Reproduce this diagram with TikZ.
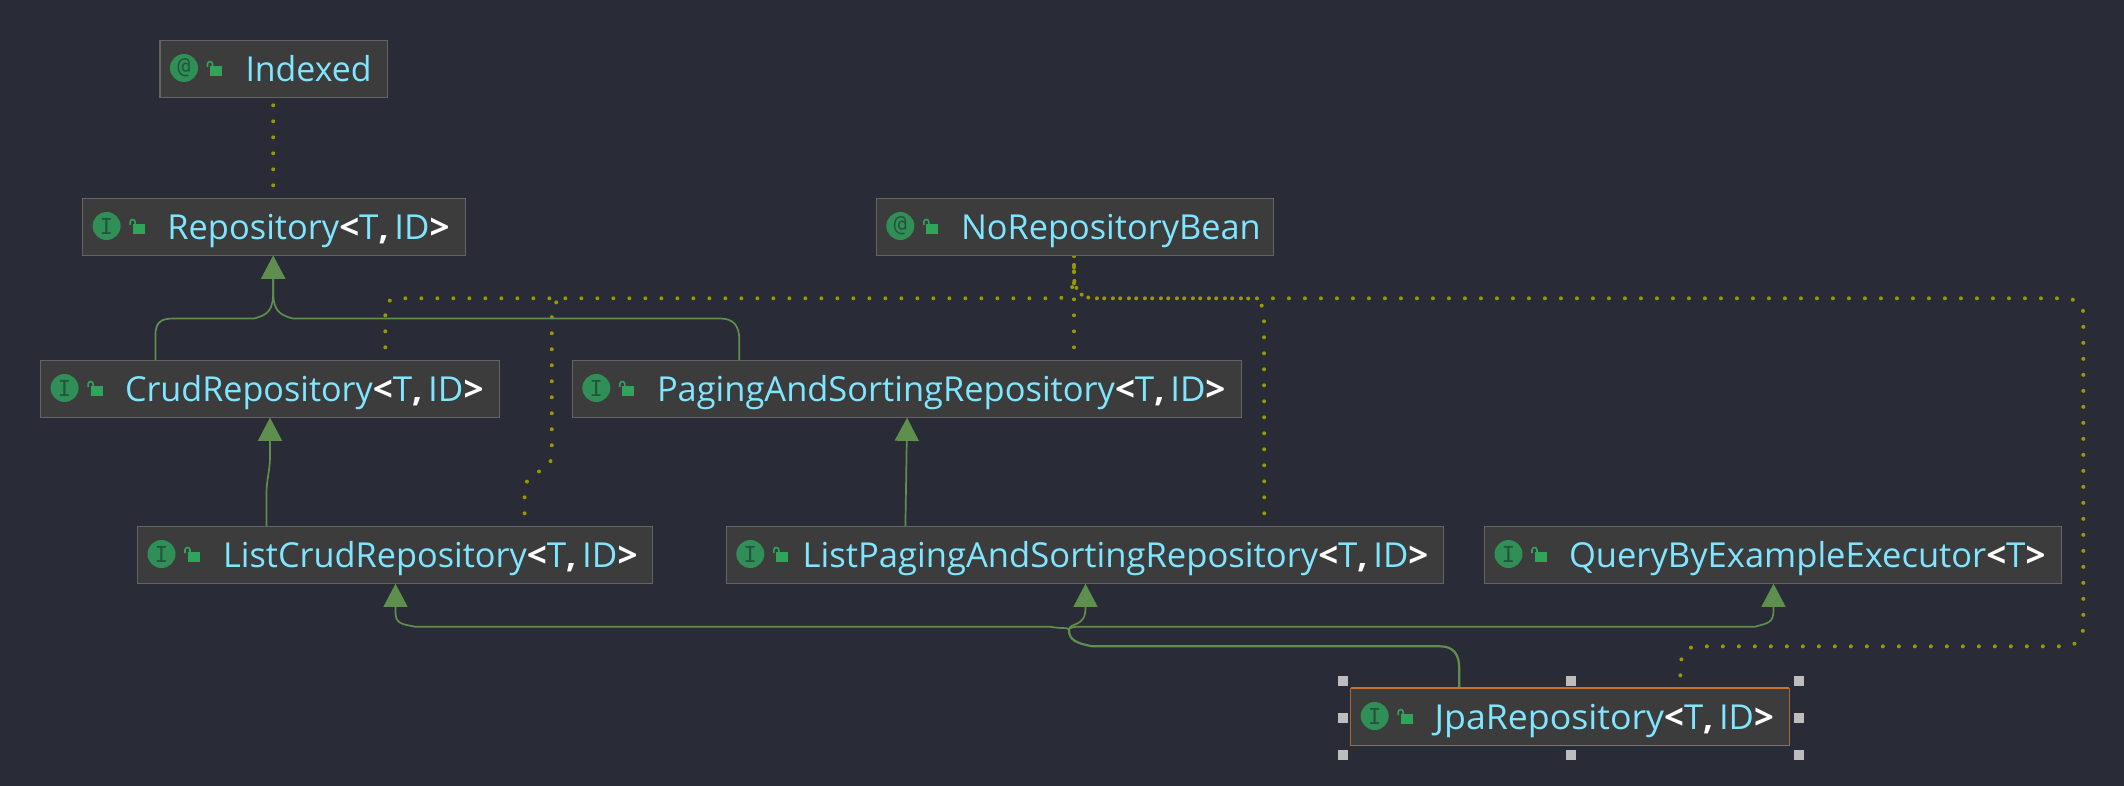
\documentclass[tikz,border=0pt]{standalone}
\usepackage{fontspec}
\usepackage{graphicx}
\setmainfont{Open Sans}
\newfontfamily\iconfont{DejaVu Sans Mono}
\usetikzlibrary{arrows.meta,backgrounds,calc}
\definecolor{pagebg}{HTML}{292B36}
\definecolor{boxfill}{HTML}{3C3C3C}
\definecolor{boxline}{HTML}{646464}
\definecolor{selline}{HTML}{A9683A}
\definecolor{seltop}{HTML}{C8702C}
\definecolor{nametext}{HTML}{80E6FF}
\definecolor{icongreen}{HTML}{2F8F57}
\definecolor{icondark}{HTML}{24553C}
\definecolor{lockgreen}{HTML}{2FA45A}
\definecolor{genline}{HTML}{5E8F4E}
\definecolor{depdot}{HTML}{999900}
\definecolor{handlegrey}{HTML}{BDBDBD}
\tikzset{
  classbox/.style={draw=boxline,fill=boxfill,line width=0.75pt,rectangle,inner sep=0pt,outer sep=0pt,anchor=north west,minimum height=28.7pt},
  selbox/.style={classbox,draw=selline},
  iconbg/.style={circle,fill=icongreen,minimum size=14pt,inner sep=0pt,outer sep=0pt},
  iconglyph/.style={text=icondark,font=\iconfont\fontsize{11}{11}\selectfont,inner sep=0pt,anchor=center},
  lockbody/.style={rectangle,fill=lockgreen,minimum width=6pt,minimum height=5pt,inner sep=0pt,outer sep=0pt,anchor=north west},
  lockarc/.style={draw=lockgreen,line width=0.8pt},
  labeltext/.style={text=nametext,inner sep=0pt,outer sep=0pt,anchor=base west,font=\fontsize{17.2}{20}\selectfont},
  genarrow/.style={draw=genline,line width=0.85pt,-{Triangle[length=11.6pt,width=12pt,fill=genline]}},
  genplain/.style={draw=genline,line width=0.85pt},
  genthick/.style={draw=genline,line width=1.1pt},
  depline/.style={draw=depdot,line width=2pt,line cap=round,dash pattern=on 0pt off 8pt,dash phase=1.5pt},
  handle/.style={rectangle,fill=handlegrey,minimum size=5pt,inner sep=0pt,outer sep=0pt}
}
\newcommand{\gTID}{\textcolor{white}{\textbf{<}}T\textcolor{white}{\textbf{,}}\,ID\textcolor{white}{\textbf{>}}}
\newcommand{\gT}{\textcolor{white}{\textbf{<}}T\textcolor{white}{\textbf{>}}}
% id, left, top, right, style, icon char
\newcommand{\classnode}[6]{%
  \node[#5,minimum width={(#4-#2)*0.5pt}] (#1) at (#2,#3) {};
  \node[iconbg] (#1-icon) at (#2+24,#3+27.7) {};
  \node[iconglyph] (#1-glyph) at (#1-icon) {#6};
  \node[lockbody] (#1-lock) at (#2+50,#3+25.7) {};
  \draw[lockarc] ($(#1-lock.north west)+(-2.5,1)$) -- ++(0,-3) arc[start angle=180,end angle=0,radius=1.25pt] -- ++(0,2);
}
\newcommand{\pxw}[1]{\dimexpr #1pt/2\relax}
% id, text x, top, name width, name, generic width, generic
\newcommand{\classlabel}[7]{%
  \node[labeltext] (#1-text) at (#2,#3+41) {\resizebox{\pxw{#4}}{\height}{#5}\resizebox{\pxw{#6}}{\height}{#7}};
}
\newcommand{\plainlabel}[5]{%
  \node[labeltext] (#1-text) at (#2,#3+41) {\resizebox{\pxw{#4}}{\height}{#5}};
}
\begin{document}
\begin{tikzpicture}[x=0.5pt,y=-0.5pt]
\useasboundingbox (0,0) rectangle (2124,786);

\classnode{indexed}{160}{40.3}{387.5}{classbox}{@}
\plainlabel{indexed}{245.5}{40.3}{126}{Indexed}
\classnode{repo}{82.6}{198.3}{465.6}{classbox}{I}
\classlabel{repo}{167.4}{198.3}{171.9}{Repository}{110.2}{\gTID}
\classnode{norepo}{876.3}{198.3}{1273.7}{classbox}{@}
\plainlabel{norepo}{961}{198.3}{299.7}{NoRepositoryBean}
\classnode{crud}{40.6}{360.3}{499.5}{classbox}{I}
\classlabel{crud}{125}{360.3}{247.8}{CrudRepository}{110.7}{\gTID}
\classnode{paging}{572.3}{360.3}{1241.5}{classbox}{I}
\classlabel{paging}{657}{360.3}{458}{PagingAndSortingRepository}{110.4}{\gTID}
\classnode{listcrud}{137.5}{526.3}{652.7}{classbox}{I}
\classlabel{listcrud}{223.2}{526.3}{303.6}{ListCrudRepository}{110.7}{\gTID}
\classnode{listpaging}{726.3}{526.3}{1443.4}{classbox}{I}
\classlabel{listpaging}{802.7}{526.3}{515.6}{ListPagingAndSortingRepository}{110}{\gTID}
\classnode{query}{1484.5}{526.3}{2061.6}{classbox}{I}
\classlabel{query}{1569}{526.3}{417.3}{QueryByExampleExecutor}{59.1}{\gT}
\classnode{jpa}{1350.7}{688.3}{1789.3}{selbox}{I}
\classlabel{jpa}{1434.6}{688.3}{229.6}{JpaRepository}{109.6}{\gTID}
\draw[seltop,line width=1pt] (jpa.north west) -- (jpa.north east);

\foreach \hx/\hy/\hn in {1342.7/680.7/a,1571/680.7/b,1798.5/680.7/c,1342.7/717.7/d,1798.5/717.7/e,1342.7/754.7/f,1571/754.7/g,1798.5/754.7/h}
  \node[handle] (handle-\hn) at (\hx,\hy) {};

\coordinate (depjoin) at (566,298.3);

\begin{scope}[on background layer]
\fill[pagebg] (0,0) rectangle (2124,786);
% dependency lines
\draw[depline] (273.2,0 |- repo.north) -- (273.2,0 |- indexed.south);
\draw[depline] (385.3,0 |- crud.north) -- (385.3,314) .. controls (385.3,303) and (388,298.3) .. (400,298.3) -- (1058,298.3) .. controls (1068,298) and (1074,290) .. (1074,275) -- (1074,0 |- norepo.south);
\draw[depline] (524.6,0 |- listcrud.north) -- (524.6,492) .. controls (525,480) and (530,477) .. (538,472) .. controls (546,468) and (551.8,466) .. (551.8,452) -- (551.8,320) .. controls (551.8,306) and (553,301) .. (depjoin);
\draw[depline] (1074,0 |- paging.north) -- (1074,0 |- norepo.south);
\draw[depline] (1264.3,0 |- listpaging.north) -- (1264,316) .. controls (1264,304) and (1258,298.3) .. (1245,298.3) -- (1095,298.3) .. controls (1082,298.3) and (1074,292) .. (1074,275) -- (1074,0 |- norepo.south);
\draw[depline] (1679.7,0 |- jpa.north) -- (1681,662) .. controls (1682,651) and (1688,646.3) .. (1700,646.3) -- (2062,646.3) .. controls (2076,646.3) and (2083.3,640) .. (2083.3,625) -- (2083.3,315) .. controls (2083.3,303) and (2076,298.3) .. (2062,298.3) -- (1095,298.3) .. controls (1082,298.3) and (1074,292) .. (1074,275) -- (1074,0 |- norepo.south);
% generalisation lines
\draw[genarrow] (155.4,0 |- crud.north) -- (155.4,336) .. controls (155.4,323) and (160,318.5) .. (173,318.5) -- (254,318.5) .. controls (268,315) and (273.2,310) .. (273.2,292) -- (273.2,0 |- repo.south);
\draw[genarrow] (739.3,0 |- paging.north) -- (739.3,340) .. controls (739.3,325) and (733,318.5) .. (720,318.5) -- (293,318.5) .. controls (279,315) and (273.2,310) .. (273.2,292) -- (273.2,0 |- repo.south);
\draw[genarrow] (266.5,0 |- listcrud.north) -- (266.5,493) .. controls (266.5,480) and (270,470) .. (270,457) -- (270,0 |- crud.south);
\draw[genarrow] (905.4,0 |- listpaging.north) -- (907.1,0 |- paging.south);
\draw[genthick] (1459.2,0 |- jpa.north) -- (1459.2,668) .. controls (1459.2,655) and (1454,646.3) .. (1440,646.3) -- (1092,646.3) .. controls (1076,643) and (1069,640) .. (1069,630);
\draw[genarrow] (1069,630) .. controls (1069,627) and (1062,629) .. (1050,626.7) -- (415,626.7) .. controls (402,624) and (395.5,624) .. (395.5,612) -- (395.5,0 |- listcrud.south);
\draw[genarrow] (1069,630) .. controls (1069,622) and (1085.5,628) .. (1085.5,608) -- (1085.5,0 |- listpaging.south);
\draw[genarrow] (1069,630) .. controls (1069,628) and (1072,626.7) .. (1080,626.7) -- (1755,626.7) .. controls (1768,623) and (1773.5,623) .. (1773.5,610) -- (1773.5,0 |- query.south);
\end{scope}
\end{tikzpicture}
\end{document}
